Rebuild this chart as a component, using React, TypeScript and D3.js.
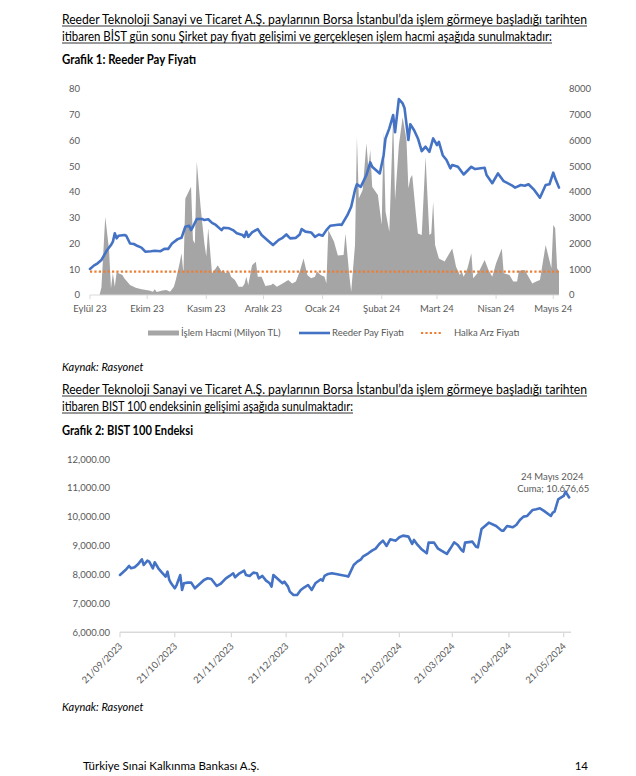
import React from "react";
import * as d3 from "d3";

// ---------- DATA ----------
const priceDates = ["2023-09-21","2023-09-23","2023-09-25","2023-09-27","2023-09-30","2023-10-02","2023-10-03","2023-10-04","2023-10-05","2023-10-06","2023-10-09","2023-10-10","2023-10-12","2023-10-14","2023-10-16","2023-10-18","2023-10-20","2023-10-23","2023-10-25","2023-10-28","2023-10-30","2023-11-01","2023-11-03","2023-11-06","2023-11-08","2023-11-10","2023-11-12","2023-11-13","2023-11-14","2023-11-16","2023-11-19","2023-11-20","2023-11-22","2023-11-24","2023-11-26","2023-11-29","2023-11-30","2023-12-03","2023-12-05","2023-12-07","2023-12-10","2023-12-11","2023-12-12","2023-12-13","2023-12-15","2023-12-18","2023-12-20","2023-12-24","2023-12-26","2023-12-29","2023-12-31","2024-01-02","2024-01-04","2024-01-07","2024-01-09","2024-01-10","2024-01-12","2024-01-15","2024-01-17","2024-01-19","2024-01-21","2024-01-23","2024-01-25","2024-01-28","2024-01-30","2024-01-31","2024-02-01","2024-02-03","2024-02-05","2024-02-07","2024-02-08","2024-02-10","2024-02-13","2024-02-15","2024-02-16","2024-02-20","2024-02-22","2024-02-23","2024-02-25","2024-02-27","2024-02-28","2024-03-01","2024-03-03","2024-03-04","2024-03-06","2024-03-07","2024-03-09","2024-03-11","2024-03-13","2024-03-15","2024-03-17","2024-03-19","2024-03-21","2024-03-22","2024-03-24","2024-03-26","2024-03-28","2024-03-29","2024-04-01","2024-04-04","2024-04-08","2024-04-10","2024-04-15","2024-04-16","2024-04-19","2024-04-22","2024-04-25","2024-04-29","2024-05-01","2024-05-04","2024-05-06","2024-05-08","2024-05-11","2024-05-14","2024-05-17","2024-05-19","2024-05-21","2024-05-22","2024-05-24"];
const priceValues = [10.1,11.4,12.3,13.6,17.5,19.4,20.7,24,22,23,23.3,23,20,19.8,19,18.4,16.8,17,17.2,17,17.9,17.9,20,21.7,22.2,26.5,26.9,25.2,26.5,29.5,29.5,29.1,29.4,28,27.2,25.2,26.1,25.9,25.2,24,23.3,22.5,24.6,22.6,24.3,25.6,23.3,20.7,19.4,21.4,22.2,23.5,22,22.2,23.5,25.6,24.6,24.3,22.6,23.5,23,25.2,26.9,27.2,27.4,27.2,28.5,31,34.3,40.8,43,42,46.6,51.5,49.8,47.2,54.3,60.8,64.7,69.9,63.2,76.1,74.4,72.5,60.2,66.3,64,60.8,55.9,57.6,55.6,60.8,58.2,59.5,54.3,52.4,49.2,50.5,49.8,46.8,49.8,48.9,49.4,46.6,43.4,47.2,44.2,42.7,41.7,42.7,42.4,43,40.8,37.8,42.7,43,47.5,45.3,41.7];

const volumeDates = ["2023-09-26","2023-09-27","2023-09-29","2023-10-01","2023-10-02","2023-10-03","2023-10-04","2023-10-05","2023-10-06","2023-10-08","2023-10-09","2023-10-12","2023-10-15","2023-10-18","2023-10-22","2023-10-24","2023-10-25","2023-10-26","2023-10-29","2023-10-31","2023-11-02","2023-11-04","2023-11-05","2023-11-07","2023-11-08","2023-11-09","2023-11-10","2023-11-13","2023-11-14","2023-11-15","2023-11-16","2023-11-18","2023-11-20","2023-11-21","2023-11-22","2023-11-24","2023-11-26","2023-11-27","2023-11-29","2023-11-30","2023-12-01","2023-12-03","2023-12-04","2023-12-06","2023-12-08","2023-12-10","2023-12-11","2023-12-12","2023-12-13","2023-12-15","2023-12-17","2023-12-18","2023-12-20","2023-12-22","2023-12-25","2023-12-26","2023-12-28","2023-12-31","2024-01-03","2024-01-05","2024-01-07","2024-01-09","2024-01-11","2024-01-13","2024-01-15","2024-01-17","2024-01-18","2024-01-20","2024-01-22","2024-01-23","2024-01-24","2024-01-27","2024-01-29","2024-02-01","2024-02-02","2024-02-04","2024-02-05","2024-02-07","2024-02-08","2024-02-09","2024-02-11","2024-02-13","2024-02-14","2024-02-15","2024-02-16","2024-02-19","2024-02-21","2024-02-22","2024-02-23","2024-02-25","2024-02-27","2024-02-28","2024-03-01","2024-03-03","2024-03-05","2024-03-06","2024-03-07","2024-03-08","2024-03-10","2024-03-11","2024-03-13","2024-03-15","2024-03-17","2024-03-18","2024-03-19","2024-03-20","2024-03-22","2024-03-25","2024-03-27","2024-03-29","2024-03-31","2024-04-02","2024-04-03","2024-04-04","2024-04-06","2024-04-08","2024-04-09","2024-04-12","2024-04-15","2024-04-17","2024-04-19","2024-04-21","2024-04-24","2024-04-25","2024-04-28","2024-04-30","2024-05-02","2024-05-03","2024-05-06","2024-05-08","2024-05-10","2024-05-12","2024-05-14","2024-05-15","2024-05-17","2024-05-20","2024-05-21","2024-05-22","2024-05-23","2024-05-24"];
const volumeValues = [0,300,3040,1750,260,840,320,900,840,780,650,390,280,220,170,130,220,120,170,190,130,320,580,1230,1620,840,3750,4200,2140,2000,5180,3430,2000,1500,2600,840,1040,1160,910,970,840,910,710,580,320,320,430,710,390,1160,1290,710,710,350,390,450,320,450,580,450,520,910,1420,780,650,710,910,780,710,450,2520,2070,1530,1550,2390,780,130,1940,6150,3750,4080,5890,4920,5630,4200,3880,2720,6340,3240,2460,6920,3690,5820,6900,6020,4140,4530,4660,3100,2390,2330,5370,2330,2390,3620,1940,1420,1300,1550,1810,1100,780,910,710,1040,1620,650,910,1360,970,710,1230,1810,840,780,520,520,940,970,710,450,520,580,1040,1940,1040,2720,2590,1040,910];

const ipoPrice = 9.1;

const bistDates = ["2023-09-21","2023-09-24","2023-09-26","2023-09-27","2023-09-29","2023-10-01","2023-10-02","2023-10-03","2023-10-04","2023-10-06","2023-10-07","2023-10-09","2023-10-10","2023-10-12","2023-10-14","2023-10-16","2023-10-17","2023-10-18","2023-10-19","2023-10-21","2023-10-22","2023-10-23","2023-10-24","2023-10-25","2023-10-26","2023-10-28","2023-10-30","2023-11-01","2023-11-03","2023-11-06","2023-11-08","2023-11-10","2023-11-13","2023-11-15","2023-11-18","2023-11-20","2023-11-22","2023-11-23","2023-11-25","2023-11-28","2023-11-29","2023-12-01","2023-12-03","2023-12-05","2023-12-06","2023-12-08","2023-12-10","2023-12-12","2023-12-13","2023-12-14","2023-12-16","2023-12-19","2023-12-20","2023-12-22","2023-12-23","2023-12-25","2023-12-27","2023-12-29","2023-12-31","2024-01-02","2024-01-04","2024-01-06","2024-01-09","2024-01-10","2024-01-11","2024-01-13","2024-01-15","2024-01-18","2024-01-20","2024-01-23","2024-01-24","2024-01-27","2024-01-29","2024-01-31","2024-02-01","2024-02-04","2024-02-06","2024-02-08","2024-02-10","2024-02-12","2024-02-14","2024-02-16","2024-02-19","2024-02-21","2024-02-23","2024-02-26","2024-02-28","2024-02-29","2024-03-02","2024-03-04","2024-03-07","2024-03-08","2024-03-11","2024-03-13","2024-03-15","2024-03-18","2024-03-20","2024-03-22","2024-03-24","2024-03-26","2024-03-27","2024-03-28","2024-04-01","2024-04-03","2024-04-04","2024-04-06","2024-04-10","2024-04-14","2024-04-17","2024-04-18","2024-04-20","2024-04-23","2024-04-25","2024-04-27","2024-04-29","2024-05-01","2024-05-04","2024-05-06","2024-05-08","2024-05-10","2024-05-14","2024-05-15","2024-05-16","2024-05-18","2024-05-19","2024-05-21","2024-05-22","2024-05-24"];
const bistValues = [7990,8160,8300,8220,8254,8370,8450,8530,8335,8485,8450,8220,8428,8220,8070,7930,8104,7815,7700,7526,7640,7815,7988,7468,7700,7722,7722,7526,7640,7815,7873,7850,7607,7676,7873,7954,8046,7908,8023,8138,7988,7954,8069,8046,7873,7954,7792,7700,7584,7988,7873,7700,7757,7584,7410,7295,7295,7468,7560,7640,7468,7700,7838,7792,7954,8023,8046,8011,7988,7954,7930,8335,8450,8532,8624,8740,8832,8902,9063,9179,8994,9225,9179,9295,9352,9318,9063,9202,9029,8890,8740,9110,9110,8913,8832,8717,8913,9121,9029,8855,8797,9110,9144,8970,8948,9584,9803,9688,9526,9526,9688,9642,9722,9896,10011,10034,10243,10266,10300,10219,10034,10150,10185,10612,10650,10728,10878,10677];

const monthLabels = ["Eylül 23","Ekim 23","Kasım 23","Aralık 23","Ocak 24","Şubat 24","Mart 24","Nisan 24","Mayıs 24"];
const monthTickDates = ["2023-09-21","2023-10-21","2023-11-21","2023-12-21","2024-01-21","2024-02-21","2024-03-21","2024-04-21","2024-05-21"];
const leftTicks = [0,10,20,30,40,50,60,70,80];
const rightTicks = [0,1000,2000,3000,4000,5000,6000,7000,8000];
const bistTicks = [6000,7000,8000,9000,10000,11000,12000];
const legendItems = ["İşlem Hacmi (Milyon TL)","Reeder Pay Fiyatı","Halka Arz Fiyatı"];

// ---------- STYLE ----------
const FONT = "Lato, 'Open Sans', sans-serif";
const GREY_TXT = "#595959";
const BLUE = "#4472C4";
const ORANGE = "#ED7D31";
const AREA = "#A5A5A5";
const AXIS = "#D9D9D9";

const parse = d3.timeParse("%Y-%m-%d");

export default function App() {
  const price = priceDates.map((d, i) => ({ date: parse(d)!, v: priceValues[i] }));
  const volume = volumeDates.map((d, i) => ({ date: parse(d)!, v: volumeValues[i] }));
  const bist = bistDates.map((d, i) => ({ date: parse(d)!, v: bistValues[i] }));
  const monthTicks = monthTickDates.map((d) => parse(d)!);

  // Chart 1 scales
  const x1 = d3.scaleTime().domain([parse("2023-09-21")!, parse("2024-05-24")!]).range([90, 559]);
  const yL = d3.scaleLinear().domain([0, 80]).range([295, 89]);
  const yR = d3.scaleLinear().domain([0, 8000]).range([295, 89]);

  const areaGen = d3.area<{ date: Date; v: number }>()
    .x((d) => x1(d.date)).y0(yR(0)).y1((d) => yR(d.v));
  const priceLine = d3.line<{ date: Date; v: number }>()
    .x((d) => x1(d.date)).y((d) => yL(d.v));

  // Chart 2 scales
  const x2 = d3.scaleTime().domain([parse("2023-09-21")!, parse("2024-05-25")!]).range([120, 571]);
  const y2 = d3.scaleLinear().domain([6000, 12000]).range([632.3, 459.3]);
  const bistLine = d3.line<{ date: Date; v: number }>()
    .x((d) => x2(d.date)).y((d) => y2(d.v));
  const fmt2 = d3.format(",.2f");
  const fmtDate = d3.timeFormat("%d/%m/%Y");
  const last = bist[bist.length - 1];

  const body = { fontFamily: FONT, fontSize: 12.5, fill: "#000" } as const;

  return (
    <div style={{ position: "absolute", left: 0, top: 0 }}>
      <svg width={636} height={776} style={{ display: "block", background: "#fff" }}>
        {/* Header 1 */}
        <text x={62} y={23.5} {...body} textLength={525} lengthAdjust="spacingAndGlyphs">
          Reeder Teknoloji Sanayi ve Ticaret A.Ş. paylarının Borsa İstanbul’da işlem görmeye başladığı tarihten
        </text>
        <line x1={62} x2={587} y1={26} y2={26} stroke="#000" strokeWidth={0.8} />
        <text x={62} y={40.5} {...body} textLength={490} lengthAdjust="spacingAndGlyphs">
          itibaren BİST gün sonu Şirket pay fiyatı gelişimi ve gerçekleşen işlem hacmi aşağıda sunulmaktadır:
        </text>
        <line x1={62} x2={552} y1={43} y2={43} stroke="#000" strokeWidth={0.8} />
        <text x={62} y={64} {...body} fontWeight={700} textLength={134} lengthAdjust="spacingAndGlyphs">
          Grafik 1: Reeder Pay Fiyatı
        </text>

        {/* Chart 1 */}
        <path d={areaGen(volume) || ""} fill={AREA} />
        <line x1={x1.range()[0]} x2={x1.range()[1]} y1={yL(0)} y2={yL(0)} stroke={AXIS} strokeWidth={1} />
        {monthTicks.map((t, i) => (
          <line key={"t1" + i} x1={x1(t)} x2={x1(t)} y1={yL(0)} y2={yL(0) + 4} stroke={AXIS} strokeWidth={1} />
        ))}
        <line x1={x1.range()[0]} x2={x1.range()[1]} y1={yL(ipoPrice)} y2={yL(ipoPrice)}
          stroke={ORANGE} strokeWidth={2.2} strokeDasharray="2.2 2.2" />
        <path d={priceLine(price) || ""} fill="none" stroke={BLUE} strokeWidth={2.6} strokeLinejoin="round" strokeLinecap="round" />

        {leftTicks.map((v) => (
          <text key={"l" + v} x={80} y={yL(v) + 3.3} textAnchor="end" fontFamily={FONT} fontSize={9.5} fill={GREY_TXT}>{v}</text>
        ))}
        {rightTicks.map((v) => (
          <text key={"r" + v} x={569} y={yR(v) + 3.3} textAnchor="start" fontFamily={FONT} fontSize={9.5} fill={GREY_TXT}>{v}</text>
        ))}
        {monthLabels.map((m, i) => (
          <text key={m} x={x1(monthTicks[i])} y={312} textAnchor="middle" fontFamily={FONT} fontSize={9.5} fill={GREY_TXT}>{m}</text>
        ))}

        {/* Legend */}
        <rect x={148} y={330.5} width={31} height={5} fill={AREA} />
        <text x={181} y={336.3} fontFamily={FONT} fontSize={9.5} fill={GREY_TXT}>{legendItems[0]}</text>
        <line x1={299} x2={330} y1={333} y2={333} stroke={BLUE} strokeWidth={2.6} />
        <text x={332} y={336.3} fontFamily={FONT} fontSize={9.5} fill={GREY_TXT}>{legendItems[1]}</text>
        <line x1={421} x2={443} y1={333} y2={333} stroke={ORANGE} strokeWidth={2.2} strokeDasharray="2.2 2.2" />
        <text x={454} y={336.3} fontFamily={FONT} fontSize={9.5} fill={GREY_TXT}>{legendItems[2]}</text>

        <text x={62} y={371} fontFamily={FONT} fontSize={11} fontStyle="italic" fill="#000">Kaynak: Rasyonet</text>

        {/* Header 2 */}
        <text x={62} y={393.5} {...body} textLength={525} lengthAdjust="spacingAndGlyphs">
          Reeder Teknoloji Sanayi ve Ticaret A.Ş. paylarının Borsa İstanbul’da işlem görmeye başladığı tarihten
        </text>
        <line x1={62} x2={587} y1={396} y2={396} stroke="#000" strokeWidth={0.8} />
        <text x={62} y={410.5} {...body} textLength={291} lengthAdjust="spacingAndGlyphs">
          itibaren BIST 100 endeksinin gelişimi aşağıda sunulmaktadır:
        </text>
        <line x1={62} x2={353} y1={413} y2={413} stroke="#000" strokeWidth={0.8} />
        <text x={62} y={435} {...body} fontWeight={700} textLength={131} lengthAdjust="spacingAndGlyphs">
          Grafik 2: BIST 100 Endeksi
        </text>

        {/* Chart 2 */}
        <line x1={x2.range()[0]} x2={x2.range()[1]} y1={y2(6000)} y2={y2(6000)} stroke={AXIS} strokeWidth={1.5} />
        {monthTicks.map((t, i) => (
          <g key={"t2" + i}>
            <line x1={x2(t)} x2={x2(t)} y1={y2(6000)} y2={y2(6000) + 5} stroke={AXIS} strokeWidth={1.2} />
            <text transform={`translate(${x2(t) + 3},${y2(6000) + 14.5}) rotate(-45)`} textAnchor="end"
              fontFamily={FONT} fontSize={9.5} fill={GREY_TXT}>{fmtDate(t)}</text>
          </g>
        ))}
        {bistTicks.map((v) => (
          <text key={"b" + v} x={110} y={y2(v) + 3.3} textAnchor="end" fontFamily={FONT} fontSize={9.5} fill={GREY_TXT}>{fmt2(v)}</text>
        ))}
        <path d={bistLine(bist) || ""} fill="none" stroke={BLUE} strokeWidth={2.6} strokeLinejoin="round" strokeLinecap="round" />
        <text x={x2(last.date) - 17} y={480} textAnchor="middle" fontFamily={FONT} fontSize={9.5} fill={GREY_TXT}>24 Mayıs 2024</text>
        <text x={x2(last.date) - 16} y={492} textAnchor="middle" fontFamily={FONT} fontSize={9.5} fill={GREY_TXT}>Cuma; 10.676,65</text>

        <text x={62} y={710.5} fontFamily={FONT} fontSize={11} fontStyle="italic" fill="#000">Kaynak: Rasyonet</text>

        {/* Footer */}
        <text x={83} y={770} fontFamily={FONT} fontSize={11.5} fill="#000">Türkiye Sınai Kalkınma Bankası A.Ş.</text>
        <text x={588} y={770} textAnchor="end" fontFamily={FONT} fontSize={11.5} fill="#000">14</text>
      </svg>
    </div>
  );
}
